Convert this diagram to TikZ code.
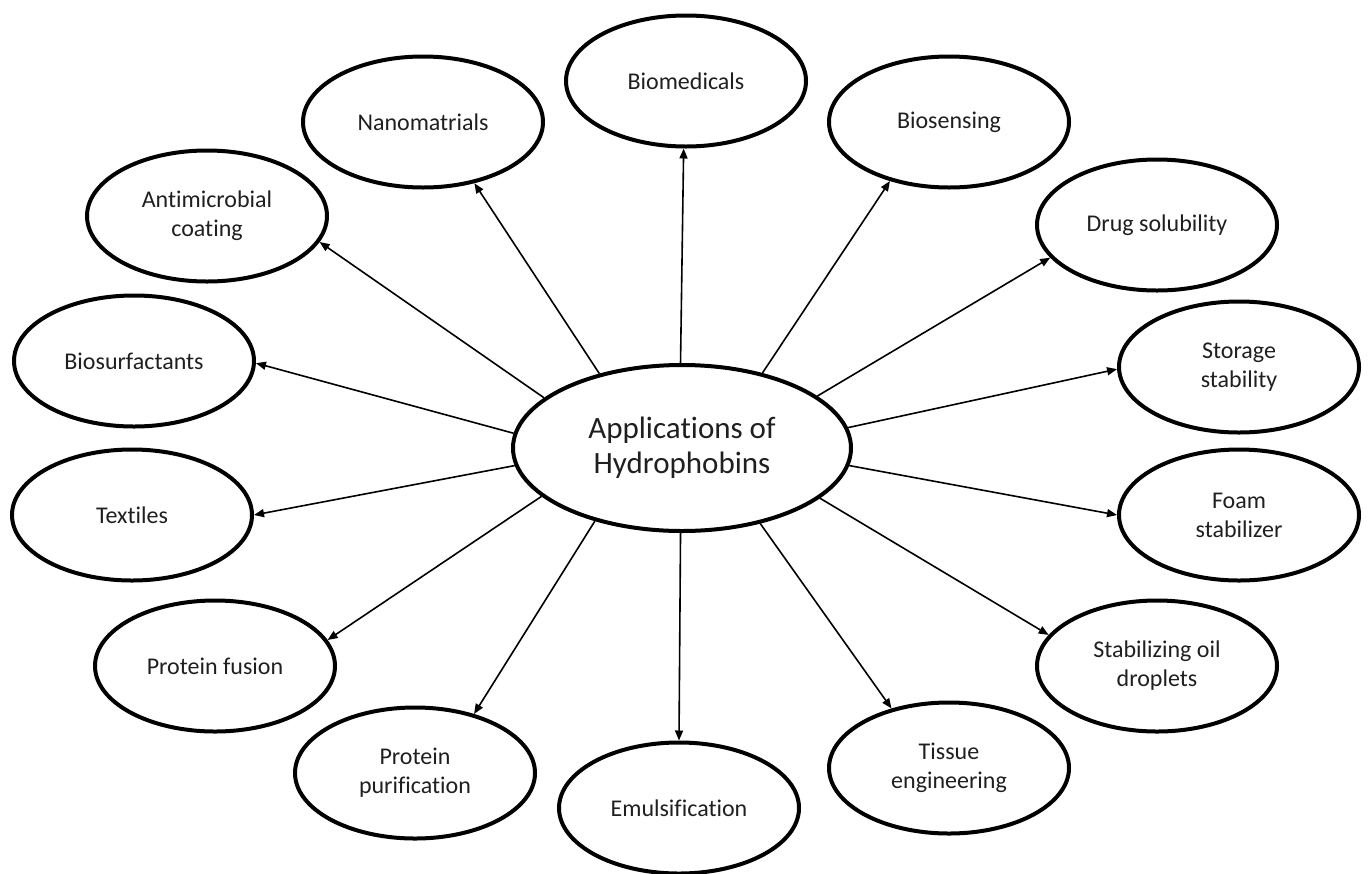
\documentclass[tikz,border=0pt]{standalone}
\usepackage{fontspec}
\setmainfont{Carlito}[Ligatures=NoCommon]
\usetikzlibrary{shapes.geometric,arrows.meta}
\begin{document}
\begin{tikzpicture}[x=1pt,y=-1pt,
  leaf/.style={ellipse,draw=black,line width=4pt,minimum width=240pt,minimum height=131pt,inner sep=0pt,align=center,text=black!88,font=\fontsize{24}{29}\selectfont},
  hub/.style={ellipse,draw=black,line width=4pt,minimum width=338pt,minimum height=166pt,inner sep=0pt,align=center,text=black!88,font=\fontsize{31}{35}\selectfont},
  link/.style={line width=1.6pt,-{Triangle[length=10pt,width=8pt]}}]
\useasboundingbox (0,0) rectangle (1370,873);
\node[hub] (c) at (682,448) {Applications of\\Hydrophobins};
\node[leaf] (bmed) at (686,81) {Biomedicals};
\node[leaf] (nano) at (423,122) {Nanomatrials};
\node[leaf] (bsen) at (949,122) {Biosensing};
\node[leaf] (anti) at (207,216) {Antimicrobial\\coating};
\node[leaf] (drug) at (1157,225) {Drug solubility};
\node[leaf] (bsurf) at (134,361) {Biosurfactants};
\node[leaf] (stor) at (1239,367) {Storage\\stability};
\node[leaf] (text) at (132,515) {Textiles};
\node[leaf] (foam) at (1239,515) {Foam\\stabilizer};
\node[leaf] (pfus) at (215,666) {Protein fusion};
\node[leaf] (stab) at (1157,666) {Stabilizing oil\\droplets};
\node[leaf] (ppur) at (415,773) {Protein\\purification};
\node[leaf] (emul) at (679,808) {Emulsification};
\node[leaf] (tiss) at (949,768) {Tissue\\engineering};
\draw[link] (c.91) -- (bmed.268);
\draw[link] (c.138.5) -- (nano.310);
\draw[link] (c.43.6) -- (bsen.225);
\draw[link] (c.160.7) -- (anti.347);
\draw[link] (c.21.3) -- (drug.197);
\draw[link] (c.175) -- (bsurf.359);
\draw[link] (c.7.8) -- (stor.181);
\draw[link] (c.186) -- (text.0);
\draw[link] (c.354) -- (foam.180);
\draw[link] (c.199.4) -- (pfus.13.9);
\draw[link] (c.340.6) -- (stab.164);
\draw[link] (c.220.6) -- (ppur.45.5);
\draw[link] (c.269) -- (emul.90);
\draw[link] (c.316) -- (tiss.134);
\end{tikzpicture}
\end{document}
